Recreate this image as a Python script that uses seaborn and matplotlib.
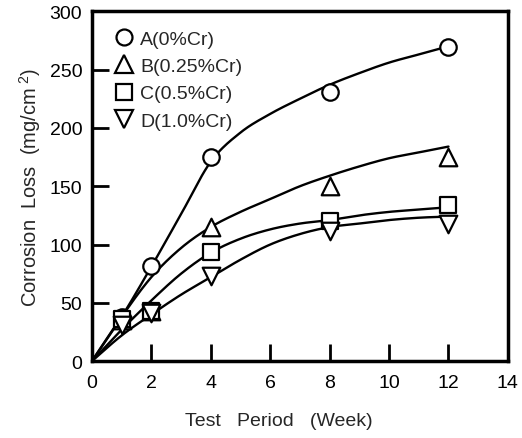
import numpy as np
import pandas as pd
import matplotlib
matplotlib.use("Agg")
import matplotlib.pyplot as plt
import seaborn as sns
from matplotlib.lines import Line2D

# ---- data ----
weeks = [1, 2, 4, 8, 12]
loss_A = [38, 82, 175, 231, 269]
loss_B = [35, 43, 115, 150, 175]
loss_C = [36, 43, 94, 120, 134]
loss_D = [31, 41, 73, 112, 118]

# fitted trend curves
curve_x = [0, 1, 2, 3, 4, 5, 6, 7, 8, 9, 10, 11, 12]
curve_A = [0, 38, 81, 126, 171, 196, 212, 225, 237, 247, 256, 263, 270]
curve_B = [0, 38, 72, 97, 115, 128, 139, 150, 159, 167, 174, 179, 184]
curve_C = [0, 27, 52, 75, 93, 105, 113, 118, 121, 125, 128, 130, 132]
curve_D = [0, 22, 40, 57, 72, 87, 100, 109, 115, 118, 121, 123, 124]

labels = ["A(0%Cr)", "B(0.25%Cr)", "C(0.5%Cr)", "D(1.0%Cr)"]
markers = ["o", "^", "s", "v"]

sns.set_theme(style="white")
plt.rcParams["font.family"] = ["Liberation Sans", "DejaVu Sans"]
plt.rcParams["mathtext.fontset"] = "custom"
plt.rcParams["mathtext.rm"] = "Liberation Sans"
plt.rcParams["mathtext.it"] = "Liberation Sans"


def smooth(xs, ys, n=20):
    """Catmull-Rom rendering of read curve points."""
    xs = np.asarray(xs, float); ys = np.asarray(ys, float)
    px = np.concatenate([[2 * xs[0] - xs[1]], xs, [2 * xs[-1] - xs[-2]]])
    py = np.concatenate([[2 * ys[0] - ys[1]], ys, [2 * ys[-1] - ys[-2]]])
    ox, oy = [], []
    for i in range(1, len(px) - 2):
        t = np.linspace(0, 1, n, endpoint=False)
        for P, out in ((px, ox), (py, oy)):
            p0, p1, p2, p3 = P[i - 1], P[i], P[i + 1], P[i + 2]
            out.extend(0.5 * ((2 * p1) + (-p0 + p2) * t
                              + (2 * p0 - 5 * p1 + 4 * p2 - p3) * t ** 2
                              + (-p0 + 3 * p1 - 3 * p2 + p3) * t ** 3))
    ox.append(xs[-1]); oy.append(ys[-1])
    return np.array(ox), np.array(oy)


fig = plt.figure(figsize=(5.22, 4.39), dpi=100)
ax = fig.add_axes([0.176, 0.175, 0.797, 0.797])

curves = [curve_A, curve_B, curve_C, curve_D]
points = [loss_A, loss_B, loss_C, loss_D]
for cy in curves:
    sx, sy = smooth(curve_x, cy)
    sns.lineplot(x=sx, y=sy, ax=ax, color="black", lw=1.7, sort=False,
                 estimator=None, zorder=2)

for ys, m in zip(points, markers):
    size = 160 if m in ("^", "v") else (120 if m == "s" else 140)
    sns.scatterplot(x=weeks, y=ys, ax=ax, marker=m, s=size,
                    facecolor="white", edgecolor="black", linewidth=1.6,
                    zorder=3)

ax.set_xlim(0, 14)
ax.set_ylim(0, 300)
ax.set_xticks(range(0, 15, 2))
ax.set_yticks(range(0, 301, 50))
ax.tick_params(direction="in", length=12, width=2, labelsize=14,
               color="black", labelcolor="black", pad=7,
               top=False, right=False, bottom=True, left=True)
ax.tick_params(axis="x", pad=9)
for s in ax.spines.values():
    s.set_linewidth(2.5)
    s.set_color("black")
ax.set_xlabel("Test   Period   (Week)", fontsize=14)
ax.xaxis.set_label_coords(0.45, -0.145)
ax.set_ylabel(r"Corrosion  Loss  (mg/cm$^{\ 2}$)", fontsize=14.5, labelpad=5)

handles = [Line2D([], [], ls="", marker=m, markersize=(13 if m in ("^", "v") else 11.5),
                  markerfacecolor="white", markeredgecolor="black",
                  markeredgewidth=1.6) for m in markers]
ax.legend(handles, labels, loc="upper left", frameon=False, fontsize=14,
          handlelength=1.0, handletextpad=0.35, labelspacing=0.5,
          borderaxespad=0.3, borderpad=0.4, bbox_to_anchor=(0.02, 0.985))

fig.savefig("out.png", dpi=100)
